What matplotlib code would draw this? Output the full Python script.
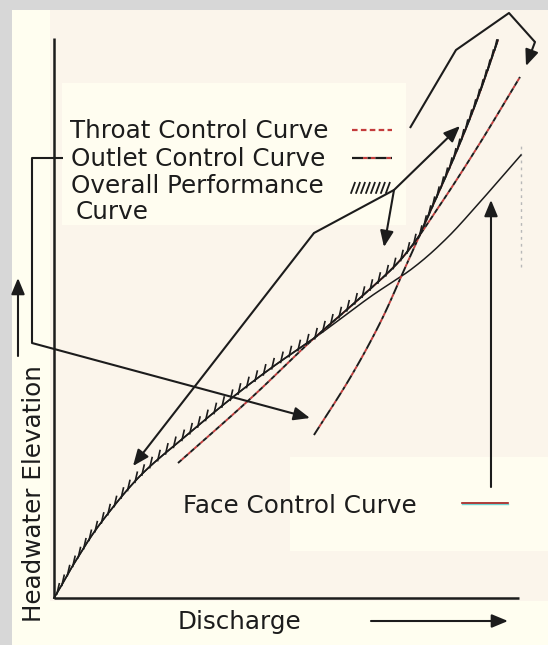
import numpy as np
import matplotlib.pyplot as plt
from matplotlib.patches import Rectangle

# relative units: discharge and headwater both run 0..100 along the axes
face_q = [0, 1.29, 4.52, 9.89, 18.49, 28.6, 38.49, 47.31, 57.2, 67.96, 77.2, 84.52, 91.61, 100.43]
face_hw = [0, 1.79, 6.45, 13.26, 21.86, 29.21, 36.02, 41.58, 47.31, 53.94, 59.14, 64.52, 70.97, 79.39]
throat_q = [26.67, 42.15, 55.05, 65.81, 75.05, 83.01, 91.61, 100.22]
throat_hw = [24.19, 35.66, 45.88, 53.76, 61.11, 70.43, 81.54, 93.37]
outlet_q = [55.91, 63.66, 70.11, 75.48, 80.86, 86.24, 90.97, 95.48]
outlet_hw = [29.21, 39.43, 49.28, 59.14, 69.18, 79.39, 89.25, 100.0]

legend_labels = ["Throat Control Curve", "Outlet Control Curve", "Overall Performance", "Curve"]
face_label = "Face Control Curve"
x_label = "Discharge"
y_label = "Headwater Elevation"

INK = "#1c1c1c"
RED = "#c43c3c"
FS = 17.7


def smooth(x, y, n=16):
    # catmull-rom through the read points
    x = np.asarray(x, float)
    y = np.asarray(y, float)
    px = np.concatenate([[2 * x[0] - x[1]], x, [2 * x[-1] - x[-2]]])
    py = np.concatenate([[2 * y[0] - y[1]], y, [2 * y[-1] - y[-2]]])
    t = np.linspace(0, 1, n, endpoint=False)[:, None]
    xs, ys = [], []
    for i in range(1, len(px) - 2):
        for arr, out in ((px, xs), (py, ys)):
            p0, p1, p2, p3 = arr[i - 1], arr[i], arr[i + 1], arr[i + 2]
            seg = 0.5 * (2 * p1 + (-p0 + p2) * t + (2 * p0 - 5 * p1 + 4 * p2 - p3) * t ** 2
                         + (-p0 + 3 * p1 - 3 * p2 + p3) * t ** 3)
            out.append(seg.ravel())
    xs.append([x[-1]])
    ys.append([y[-1]])
    return np.concatenate(xs), np.concatenate(ys)


def arrow(ax, pts, lw=1.5):
    pts = np.asarray(pts, float)
    if len(pts) > 2:
        ax.plot(pts[:-1, 0], pts[:-1, 1], color=INK, lw=lw, solid_capstyle="butt", zorder=6)
    ax.annotate("", xy=pts[-1], xytext=pts[-2],
                arrowprops=dict(arrowstyle="-|>,head_length=0.65,head_width=0.27",
                                mutation_scale=15, color=INK, lw=lw,
                                shrinkA=0, shrinkB=0), zorder=6)


fig = plt.figure(figsize=(5.48, 6.45), dpi=100)
fig.patch.set_facecolor("#d7d7d7")
ax = fig.add_axes([0, 0, 1, 1])
ax.set_xlim(-11.61, 106.24)
ax.set_ylim(-8.42, 107.17)
ax.axis("off")

# paper background
ax.add_patch(Rectangle((0.0219, 0), 0.9781, 0.9845, transform=ax.transAxes,
                       facecolor="#fffef0", edgecolor="none", zorder=0))
ax.add_patch(Rectangle((0.0912, 0.0682), 0.9088, 0.9163, transform=ax.transAxes,
                       facecolor="#fbf5eb", edgecolor="none", zorder=0))
ax.add_patch(Rectangle((0.1131, 0.6512), 0.6277, 0.2202, transform=ax.transAxes,
                       facecolor="#fffdf0", edgecolor="none", zorder=0))
ax.add_patch(Rectangle((0.53, 0.146), 0.47, 0.145, transform=ax.transAxes,
                       facecolor="#fffdf0", edgecolor="none", zorder=0))

# axes lines
ax.plot([0, 0], [0, 100.4], color=INK, lw=1.8, solid_capstyle="butt", zorder=5)
ax.plot([0, 100], [0, 0], color=INK, lw=1.8, solid_capstyle="butt", zorder=5)

# control curves
fq, fh = smooth(face_q, face_hw)
tq, th = smooth(throat_q, throat_hw)
oq, oh = smooth(outlet_q, outlet_hw)
ax.plot(fq, fh, color=INK, lw=1.1, zorder=3)
ax.plot(tq, th, color=INK, lw=1.4, ls=(0, (2.5, 1.8)), gapcolor=RED, zorder=3)
ax.plot(oq, oh, color=INK, lw=1.4, ls=(0, (5, 1.8, 1.8, 1.8)), gapcolor=RED, zorder=3)

# overall performance = highest headwater of the three
q = np.linspace(0, outlet_q[-1], 900)
stack = []
for cq, ch in ((fq, fh), (tq, th), (oq, oh)):
    v = np.interp(q, cq, ch)
    v[(q < cq[0]) | (q > cq[-1])] = np.nan
    stack.append(v)
hw = np.nanmax(np.vstack(stack), axis=0)
ax.plot(q, hw, color=INK, lw=1.2, zorder=4)

# hatch ticks along the overall curve
fig.canvas.draw()
disp = ax.transData.transform(np.column_stack([q, hw]))
arc = np.concatenate([[0], np.cumsum(np.hypot(*np.diff(disp, axis=0).T))])
inv = ax.transData.inverted()
for s in np.arange(6, arc[-1], 10.5):
    i = np.searchsorted(arc, s)
    base = disp[i]
    a = inv.transform(base - [0.5, 1.5])
    b = inv.transform(base + [1.8, 8.5])
    ax.plot([a[0], b[0]], [a[1], b[1]], color=INK, lw=1.2, zorder=4)

# legend text and keys
ax.text(3.44, 82.44, legend_labels[0], fontsize=FS, color=INK, va="baseline")
ax.text(3.66, 77.42, legend_labels[1], fontsize=FS, color=INK, va="baseline")
ax.text(3.66, 72.58, legend_labels[2], fontsize=FS, color=INK, va="baseline")
ax.text(4.73, 67.92, legend_labels[3], fontsize=FS, color=INK, va="baseline")
ax.plot([64.09, 72.69], [83.87, 83.87], color=RED, lw=1.6, ls=(0, (2.5, 1.5)), zorder=5)
ax.plot([64.09, 72.69], [78.85, 78.85], color=INK, lw=1.6, ls=(0, (5, 2, 1.5, 2)),
        gapcolor=RED, zorder=5)
for x0 in np.linspace(63.9, 71.4, 8):
    ax.plot([x0, x0 + 0.8], [72.6, 74.4], color=INK, lw=1.3, zorder=5)

ax.text(27.74, 15.23, face_label, fontsize=FS, color=INK, va="baseline")
ax.plot([87.74, 97.63], [16.85, 16.85], color="#6fd6d6", lw=1.0, zorder=5)
ax.plot([87.74, 97.63], [17.1, 17.1], color="#a01c1c", lw=1.2, zorder=5)

ax.text(26.67, -5.56, x_label, fontsize=FS, color=INK, va="baseline")
ax.text(-4.4, 18.8, y_label, fontsize=FS, color=INK, rotation=90,
        ha="center", va="center")

# faint guide at the right
ax.plot([100.43, 100.43], [59.32, 81.54], color="#b8b8b8", lw=1.0, ls=(0, (2, 3)), zorder=2)

# leaders
arrow(ax, [(1.94, 78.85), (-4.73, 78.85), (-4.73, 45.70), (55.05, 32.26)])
arrow(ax, [(73.12, 73.12), (55.91, 65.41), (16.99, 23.66)])
arrow(ax, [(73.12, 73.12), (87.31, 84.59)])
arrow(ax, [(73.12, 73.12), (70.97, 62.90)])
arrow(ax, [(76.56, 84.23), (86.45, 98.21), (97.85, 104.84), (103.44, 99.64), (101.51, 95.34)])
arrow(ax, [(93.98, 19.89), (93.98, 71.33)])
arrow(ax, [(-7.74, 43.37), (-7.74, 57.35)])
arrow(ax, [(68.17, -4.12), (97.63, -4.12)])

fig.savefig("out.png", dpi=100, facecolor=fig.get_facecolor())
